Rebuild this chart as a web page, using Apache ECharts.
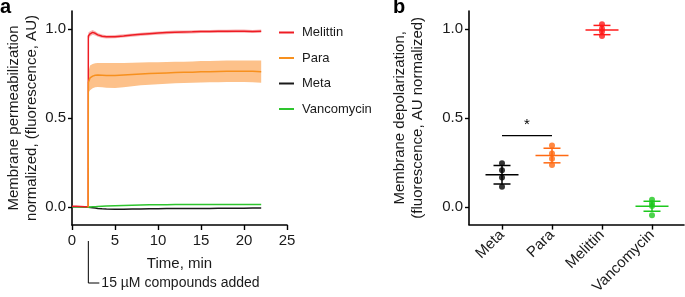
<!DOCTYPE html>
<html lang="en">
<head>
<meta charset="UTF-8" />
<title>Membrane permeabilization / depolarization</title>
<script src="https://cdn.jsdelivr.net/npm/echarts@6/dist/echarts.min.js"></script>
<style>
  html, body { margin: 0; padding: 0; background: #fff; }
  #main { width: 685px; height: 297px; }
</style>
</head>
<body>
<div id="main"></div>
<script>
// ---- panel a: time course ----
var time = [0, 0.5, 1, 1.5, 1.88, 1.9, 2.1, 2.4, 2.7, 3, 3.5, 4, 5, 6, 7, 8, 9, 10, 11, 12, 13, 14, 15, 16, 17, 18, 19, 20, 21, 22];
var melittin = [0.005, 0.005, 0.004, 0.003, 0.002, 0.96, 0.972, 0.98, 0.975, 0.966, 0.958, 0.955, 0.956, 0.96, 0.965, 0.969, 0.973, 0.976, 0.979, 0.981, 0.982, 0.983, 0.985, 0.985, 0.986, 0.986, 0.987, 0.987, 0.985, 0.987];
var melittinSd = [0, 0, 0, 0, 0, 0.02, 0.015, 0.013, 0.012, 0.01, 0.01, 0.009, 0.009, 0.009, 0.009, 0.009, 0.009, 0.009, 0.009, 0.009, 0.009, 0.009, 0.009, 0.009, 0.009, 0.009, 0.009, 0.009, 0.009, 0.009];
var para = [null, null, null, null, 0.0, 0.70, 0.725, 0.735, 0.74, 0.741, 0.74, 0.739, 0.738, 0.741, 0.744, 0.747, 0.749, 0.751, 0.753, 0.755, 0.756, 0.757, 0.759, 0.76, 0.761, 0.762, 0.762, 0.762, 0.762, 0.76];
var paraSd = [null, null, null, null, 0, 0.06, 0.07, 0.068, 0.067, 0.067, 0.068, 0.07, 0.07, 0.068, 0.066, 0.064, 0.063, 0.062, 0.061, 0.06, 0.06, 0.06, 0.06, 0.06, 0.06, 0.06, 0.06, 0.06, 0.061, 0.062];
var meta = [0.003, 0.003, 0.002, 0.001, 0.0, 0.0, -0.001, -0.003, -0.005, -0.007, -0.009, -0.01, -0.011, -0.011, -0.01, -0.01, -0.009, -0.009, -0.008, -0.008, -0.008, -0.007, -0.007, -0.007, -0.006, -0.006, -0.006, -0.006, -0.005, -0.005];
var vanco = [0.002, 0.002, 0.001, 0.001, 0.0, 0.0, 0.001, 0.002, 0.003, 0.004, 0.005, 0.006, 0.008, 0.01, 0.011, 0.012, 0.013, 0.014, 0.014, 0.015, 0.015, 0.015, 0.015, 0.015, 0.015, 0.015, 0.015, 0.015, 0.015, 0.015];
var addTime = 1.9; // when the compounds were added

// ---- panel b: end-point values ----
var groups = ['Meta', 'Para', 'Melittin', 'Vancomycin'];
var groupPoints = [
  [0.245, 0.205, 0.165, 0.113],
  [0.345, 0.30, 0.27, 0.235],
  [1.025, 1.0, 0.985, 0.96],
  [0.04, 0.02, 0.005, -0.048]
];
var groupMean = [0.18, 0.288, 0.993, 0.003];
var groupSd = [0.052, 0.041, 0.026, 0.028];
var groupColors = ['#000000', '#ff6a13', '#ff1a1a', '#1ec81e'];
var sigPair = [1, 2];
var sigLevel = 0.40;

var yTicks = [0, 0.5, 1.0];
var font = 'Liberation Sans, Arial, sans-serif';
var ink = '#1a1a1a';

function pairs(ys) {
  return time.map(function (t, i) { return [t, ys[i]]; });
}

var axisLine = { show: true, onZero: false, lineStyle: { color: '#000', width: 1.6 } };
var tick = { show: true, length: 4, lineStyle: { color: '#000', width: 1.4 } };
var label = { color: ink, fontSize: 15, fontFamily: font };
var nameStyle = { color: ink, fontSize: 15, fontFamily: font, lineHeight: 18 };

function yAxis(grid, name, gap) {
  return {
    type: 'value', gridIndex: grid, min: -0.1, max: 1.1,
    name: name, nameLocation: 'middle', nameGap: gap, nameRotate: 90,
    nameTextStyle: nameStyle,
    axisLine: axisLine,
    axisTick: Object.assign({ customValues: yTicks }, tick),
    axisLabel: Object.assign({ customValues: yTicks, margin: 6, formatter: function (v) { return v.toFixed(1); } }, label),
    splitLine: { show: false }
  };
}

// shaded SD band drawn as one polygon through the axis scales
function band(ys, sd, color) {
  return {
    type: 'custom', xAxisIndex: 0, yAxisIndex: 0, silent: true, data: [[0, 0]],
    renderItem: function (params, api) {
      var up = [], dn = [];
      time.forEach(function (t, i) {
        if (ys[i] == null) return;
        up.push(api.coord([t, ys[i] + sd[i]]));
        dn.unshift(api.coord([t, ys[i] - sd[i]]));
      });
      return { type: 'polygon', shape: { points: up.concat(dn) }, style: { fill: color } };
    }
  };
}
function trace(name, ys, color) {
  return {
    name: name, type: 'line', data: pairs(ys), color: color, showSymbol: false,
    lineStyle: { color: color, width: 1.5 }, xAxisIndex: 0, yAxisIndex: 0
  };
}

var pointData = [];
groupPoints.forEach(function (pts, i) {
  pts.forEach(function (v) {
    pointData.push({ value: [i + 1, v], itemStyle: { color: groupColors[i] } });
  });
});

var chart = echarts.init(document.getElementById('main'));
var option = {
  animation: false,
  textStyle: { fontFamily: font },
  title: [
    { text: 'a', left: 0, top: -3, padding: 0, textStyle: { fontSize: 20, fontWeight: 'bold', color: '#000', fontFamily: font } },
    { text: 'b', left: 393, top: -3, padding: 0, textStyle: { fontSize: 20, fontWeight: 'bold', color: '#000', fontFamily: font } }
  ],
  legend: {
    data: ['Melittin', 'Para', 'Meta', 'Vancomycin'],
    orient: 'vertical', left: 279, top: 26, padding: 0,
    icon: 'rect', itemWidth: 15, itemHeight: 2, itemGap: 12.5,
    textStyle: { color: ink, fontSize: 13, fontFamily: font, padding: [0, 0, 0, 3] }
  },
  grid: [
    { left: 72, top: 11, width: 215, height: 214 },
    { left: 469, top: 11, width: 215, height: 214 }
  ],
  xAxis: [
    {
      type: 'value', gridIndex: 0, min: 0, max: 25, interval: 5,
      name: 'Time, min', nameLocation: 'middle', nameGap: 30,
      nameTextStyle: nameStyle,
      axisLine: axisLine, axisTick: Object.assign({}, tick, { length: 5 }),
      axisLabel: Object.assign({ margin: 8 }, label),
      splitLine: { show: false }
    },
    {
      type: 'value', gridIndex: 1, min: 0.34, max: 4.64,
      axisLine: axisLine,
      axisTick: Object.assign({ customValues: [1, 2, 3, 4] }, tick, { length: 5 }),
      axisLabel: Object.assign({ customValues: [1, 2, 3, 4], rotate: 45, margin: 8,
        formatter: function (v) { return groups[Math.round(v) - 1]; } }, label),
      splitLine: { show: false }
    }
  ],
  yAxis: [
    yAxis(0, 'Membrane permeabilization\nnormalized, (fluorescence, AU)', 31),
    yAxis(1, 'Membrane depolarization,\n(fluorescence, AU normalized)', 42)
  ],
  series: [
    band(melittin, melittinSd, '#f8b4b4'),
    band(para, paraSd, '#fdc18a'),
    trace('Meta', meta, '#1a1a1a'),
    trace('Vancomycin', vanco, '#2ec52e'),
    trace('Melittin', melittin, '#ee1c24'),
    trace('Para', para, '#f7901e'),
    {
      type: 'custom', xAxisIndex: 1, yAxisIndex: 1, silent: true,
      data: groupMean.map(function (m, i) { return [i + 1, m, groupSd[i]]; }),
      renderItem: function (params, api) {
        var x = api.value(0), m = api.value(1), s = api.value(2);
        var c = api.coord([x, m]);
        var hi = api.coord([x, m + s]);
        var lo = api.coord([x, m - s]);
        var meanHalf = api.size([0.33, 0])[0];
        var capHalf = api.size([0.17, 0])[0];
        var st = { stroke: groupColors[params.dataIndex], lineWidth: 1.5 };
        return {
          type: 'group', children: [
            { type: 'line', shape: { x1: c[0] - meanHalf, y1: c[1], x2: c[0] + meanHalf, y2: c[1] }, style: st },
            { type: 'line', shape: { x1: hi[0] - capHalf, y1: hi[1], x2: hi[0] + capHalf, y2: hi[1] }, style: st },
            { type: 'line', shape: { x1: lo[0] - capHalf, y1: lo[1], x2: lo[0] + capHalf, y2: lo[1] }, style: st },
            { type: 'line', shape: { x1: hi[0], y1: hi[1], x2: lo[0], y2: lo[1] }, style: st }
          ]
        };
      }
    },
    {
      type: 'scatter', xAxisIndex: 1, yAxisIndex: 1, symbolSize: 6, silent: true,
      data: pointData
    },
    {
      type: 'custom', xAxisIndex: 1, yAxisIndex: 1, silent: true,
      data: [[sigPair[0], sigPair[1], sigLevel]],
      renderItem: function (params, api) {
        var a = api.coord([api.value(0), api.value(2)]);
        var b = api.coord([api.value(1), api.value(2)]);
        return {
          type: 'group', children: [
            { type: 'line', shape: { x1: a[0], y1: a[1], x2: b[0], y2: b[1] }, style: { stroke: '#000', lineWidth: 1.3 } },
            { type: 'text', x: (a[0] + b[0]) / 2, y: a[1] - 3,
              style: { text: '*', fill: '#000', fontSize: 15, fontFamily: font, align: 'center', verticalAlign: 'bottom' } }
          ]
        };
      }
    }
  ]
};
chart.setOption(option);

// bracket marking when compounds were added
var px = chart.convertToPixel({ xAxisIndex: 0 }, addTime);
chart.setOption({
  graphic: [
    { type: 'polyline', shape: { points: [[px, 241], [px, 283], [px + 11, 283]] }, style: { stroke: '#000', lineWidth: 1, fill: null } },
    { type: 'text', x: px + 13, y: 283, style: { text: '15 \u00b5M compounds added', fill: ink, fontSize: 14, fontFamily: font, verticalAlign: 'middle' } }
  ]
});
</script>
</body>
</html>
